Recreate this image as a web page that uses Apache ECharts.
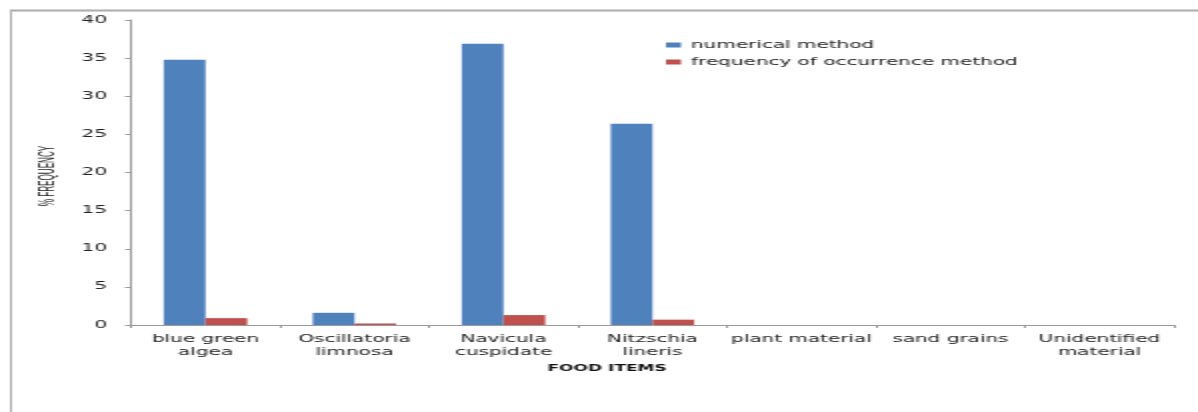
<!DOCTYPE html>
<html>
<head>
<meta charset="utf-8">
<style>
  html, body { margin: 0; padding: 0; background: #fff; overflow: hidden; }
  #wrap { width: 1198px; height: 412px; overflow: hidden; position: relative; }
  /* the chart is laid out at half width and widened 2x, giving the wide lettering */
  #chart { width: 599px; height: 412px; transform: scaleX(2); transform-origin: 0 0; }
</style>
<script src="https://cdn.jsdelivr.net/npm/echarts@6/dist/echarts.min.js"></script>
</head>
<body>
<div id="wrap"><div id="chart"></div></div>
<script>
// Food items found in gut contents, with % frequency by two methods
var categories = [
  'blue green\nalgea',
  'Oscillatoria\nlimnosa',
  'Navicula\ncuspidate',
  'Nitzschia\nlineris',
  'plant material',
  'sand grains',
  'Unidentified\nmaterial'
];
var numericalMethod = [34.8, 1.6, 36.9, 26.4, 0, 0, 0];
var occurrenceMethod = [0.9, 0.2, 1.3, 0.7, 0, 0, 0];
var yTicks = { min: 0, max: 40, interval: 5 };

var chart = echarts.init(document.getElementById('chart'), null, { renderer: 'canvas' });

var axisGray = '#9a9a9a';
var labelFont = 'DejaVu Sans';

chart.setOption({
  animation: false,
  backgroundColor: '#fff',
  grid: { left: 65.5, right: 12, top: 20, bottom: 87 },
  legend: {
    orient: 'vertical',
    left: 333,
    top: 40,
    padding: 0,
    itemWidth: 7.5,
    itemHeight: 5,
    itemGap: 7,
    icon: 'rect',
    textStyle: { fontFamily: labelFont, fontSize: 10, color: '#222' },
    data: ['numerical method', 'frequency of occurrence method']
  },
  xAxis: {
    type: 'category',
    data: categories,
    axisLine: { lineStyle: { color: axisGray, width: 1 } },
    axisTick: { show: true, alignWithLabel: false, length: 3, lineStyle: { color: axisGray } },
    axisLabel: {
      interval: 0,
      margin: 8,
      fontFamily: labelFont,
      fontSize: 10,
      lineHeight: 13,
      color: '#222'
    }
  },
  yAxis: {
    type: 'value',
    min: yTicks.min,
    max: yTicks.max,
    interval: yTicks.interval,
    splitLine: { show: false },
    axisLine: { show: true, lineStyle: { color: axisGray, width: 1 } },
    axisTick: { show: true, length: 3, lineStyle: { color: axisGray } },
    axisLabel: {
      margin: 12,
      fontFamily: labelFont,
      fontSize: 10,
      color: '#222'
    }
  },
  series: [
    {
      name: 'numerical method',
      type: 'bar',
      data: numericalMethod,
      barGap: '0%',
      barCategoryGap: '44%',
      itemStyle: { color: '#4F81BD' }
    },
    {
      name: 'frequency of occurrence method',
      type: 'bar',
      data: occurrenceMethod,
      itemStyle: { color: '#C0504D' }
    }
  ],
  graphic: [
    // frame round the chart: left and top edges
    {
      type: 'line',
      shape: { x1: 5.5, y1: 10, x2: 5.5, y2: 430 },
      style: { stroke: '#ababab', lineWidth: 1 },
      silent: true
    },
    {
      type: 'line',
      shape: { x1: 5, y1: 10.5, x2: 620, y2: 10.5 },
      style: { stroke: '#ababab', lineWidth: 2 },
      silent: true
    },
    {
      type: 'text',
      x: 23.5,
      y: 176,
      rotation: Math.PI / 2,
      scaleX: 0.74,
      style: {
        text: '% FREQUENCY',
        align: 'center',
        verticalAlign: 'middle',
        fontFamily: 'Liberation Sans',
        fontSize: 11,
        fill: '#222'
      }
    },
    {
      type: 'text',
      x: 303.5,
      y: 369,
      style: {
        text: 'FOOD ITEMS',
        align: 'center',
        verticalAlign: 'middle',
        fontFamily: labelFont,
        fontSize: 8.5,
        fontWeight: 'bold',
        fill: '#111'
      }
    }
  ]
});
</script>
</body>
</html>
